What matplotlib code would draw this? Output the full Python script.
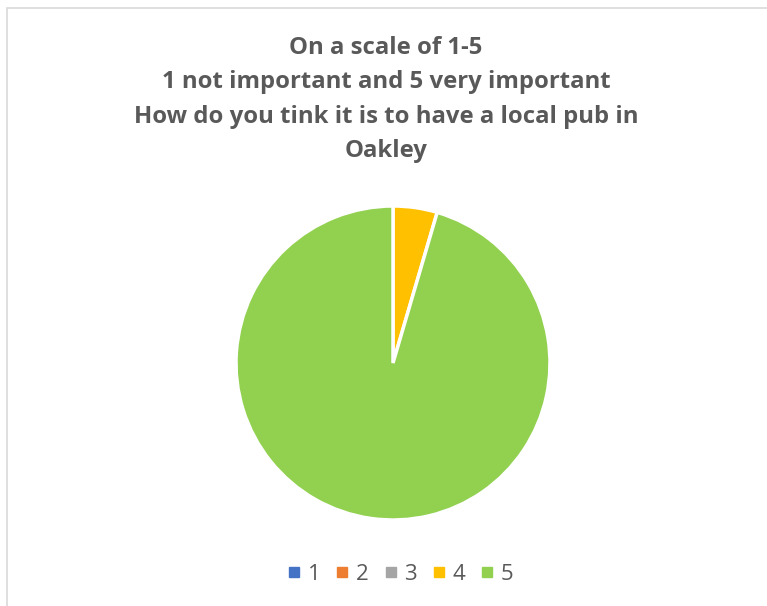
import matplotlib.pyplot as plt
from matplotlib.patches import Rectangle
from matplotlib.lines import Line2D

# Survey answers (1 = not important, 5 = very important)
categories = ['1', '2', '3', '4', '5']
counts = [0, 0, 0, 1, 21]
colors = ['#4472C4', '#ED7D31', '#A5A5A5', '#FFC000', '#92D050']

title = ('On a scale of 1-5\n1 not important and 5 very important\n'
         'How do you tink it is to have a local pub in\nOakley')

fig = plt.figure(figsize=(7.67, 6.06), dpi=100)
W, H = 767, 606

# chart border (runs off the right and bottom edge)
fig.patches.append(Rectangle((7 / W, -0.1), 1.2, (H - 8) / H + 0.1,
                             transform=fig.transFigure, fill=False,
                             edgecolor='#D9D9D9', linewidth=1.2))

r = 157
ax = fig.add_axes([(393 - r) / W, (H - 363 - r) / H, 2 * r / W, 2 * r / H])
ax.pie(counts, colors=colors, startangle=90, counterclock=False,
       wedgeprops=dict(edgecolor='white', linewidth=2.5), radius=1.0)
ax.set_xlim(-1.0, 1.0)
ax.set_ylim(-1.0, 1.0)
ax.set_aspect('equal')
ax.axis('off')

fig.text(386 / W, 1 - 36 / H, title, ha='center', va='top',
         fontsize=17.2, fontweight='bold', color='#595959',
         family='Open Sans', linespacing=1.58)

handles = [Line2D([], [], marker='s', linestyle='none', markersize=7,
                  markerfacecolor=c, markeredgecolor=c) for c in colors]
fig.legend(handles, categories, loc='center', bbox_to_anchor=(397 / W, 1 - 574 / H),
           ncol=5, frameon=False, labelcolor='#595959',
           handletextpad=0.0, columnspacing=0.4, handlelength=1.2,
           prop={'family': 'Open Sans', 'size': 16})

fig.savefig('out.png', dpi=100)
